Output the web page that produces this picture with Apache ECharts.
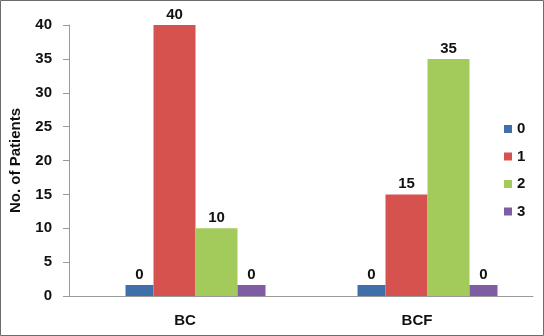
<!DOCTYPE html>
<html>
<head>
<meta charset="utf-8">
<script src="https://cdn.jsdelivr.net/npm/echarts@6/dist/echarts.min.js"></script>
<style>
html,body{margin:0;padding:0;background:#fff;}
#c{width:544px;height:336px;}
</style>
</head>
<body>
<div id="c"></div>
<script>
var categories = ['BC', 'BCF'];
var seriesNames = ['0', '1', '2', '3'];
var values0 = [0, 0];
var values1 = [40, 15];
var values2 = [10, 35];
var values3 = [0, 0];
var yTicks = [0, 5, 10, 15, 20, 25, 30, 35, 40];

var colors = ['#3F70AA', '#D5524F', '#A2CB5B', '#7E5DA4'];
var widths = [28, 42, 42, 28];
var allValues = [values0, values1, values2, values3];
var FONT = 'Liberation Sans, Arial, sans-serif';

var labelStyle = {
  show: true, position: 'top', distance: 3,
  fontFamily: FONT, fontWeight: 'bold', fontSize: 15, color: '#111'
};

var series = [{
  name: '', type: 'bar', data: [], barWidth: 21, barGap: '0%', silent: true
}];
for (var i = 0; i < 4; i++) {
  series.push({
    name: seriesNames[i],
    type: 'bar',
    data: allValues[i],
    barWidth: widths[i],
    barGap: '0%',
    barMinHeight: 11,
    itemStyle: { color: colors[i] },
    label: labelStyle
  });
}

var chart = echarts.init(document.getElementById('c'), null, {renderer: 'canvas'});
chart.setOption({
  animation: false,
  backgroundColor: '#fff',
  color: colors,
  graphic: [{
    type: 'rect', shape: {x: 0.5, y: 0.5, width: 543, height: 335},
    style: {fill: 'none', stroke: '#6b6b6b', lineWidth: 1}, z: 100
  }],
  grid: {left: 69, right: 11, top: 25, bottom: 40, containLabel: false},
  legend: {
    data: seriesNames,
    orient: 'vertical',
    left: 504, top: 121, padding: 0,
    itemWidth: 8, itemHeight: 8, itemGap: 11.5,
    icon: 'rect',
    textStyle: {fontFamily: FONT, fontWeight: 'bold', fontSize: 15, color: '#111', lineHeight: 16}
  },
  xAxis: {
    type: 'category',
    data: categories,
    axisLine: {lineStyle: {color: '#9a9a9a', width: 1}},
    axisTick: {show: false},
    axisLabel: {fontFamily: FONT, fontWeight: 'bold', fontSize: 15, color: '#111', margin: 17}
  },
  yAxis: {
    type: 'value',
    min: yTicks[0], max: yTicks[yTicks.length - 1], interval: 5,
    name: 'No. of Patients',
    nameLocation: 'middle',
    nameGap: 46,
    nameTextStyle: {fontFamily: FONT, fontWeight: 'bold', fontSize: 15, color: '#111'},
    axisLine: {show: true, lineStyle: {color: '#9a9a9a', width: 1}},
    axisTick: {show: true, length: 6, lineStyle: {color: '#9a9a9a'}},
    splitLine: {show: false},
    axisLabel: {fontFamily: FONT, fontWeight: 'bold', fontSize: 15, color: '#111', margin: 17}
  },
  series: series
});
</script>
</body>
</html>
